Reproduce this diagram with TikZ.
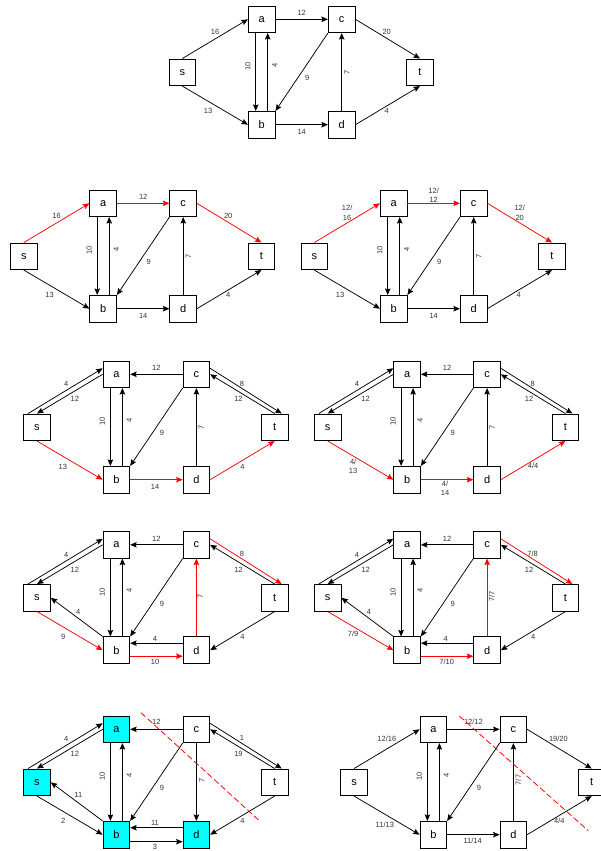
\documentclass[tikz,border=0pt]{standalone}
\usepackage{fontspec}
\setmainfont{Liberation Sans}
\usetikzlibrary{arrows.meta, positioning}

\definecolor{cutside}{RGB}{0,255,255}

\tikzset{
  box/.style={draw, line width=0.8pt, fill=white, minimum size=26.7pt,
    inner sep=0pt, font=\fontsize{11}{13}\selectfont},
  srcside/.style={},
  flow/.style={-{Stealth[length=6.5pt, width=5.5pt, inset=1pt]}, line width=0.75pt},
  aug/.style={flow, draw=red},
  lbl/.style={font=\fontsize{7.5}{9.4}\selectfont, text=black!80,
    inner sep=0pt, align=center},
  cut/.style={draw=red, line width=0.8pt, dash pattern=on 6pt off 3pt}
}

% the six vertices of one network, #1 = panel number
\newcommand{\netnodes}[1]{%
  \node[box, srcside] (s#1) at (182.3,72.3) {s};
  \node[box, srcside] (a#1) at (261.7,19.3) {a};
  \node[box, srcside] (b#1) at (261.7,124.7) {b};
  \node[box] (c#1) at (341.7,19.3) {c};
  \node[box, srcside] (d#1) at (341.7,124.7) {d};
  \node[box] (t#1) at (420,72.3) {t};
}
% edges a-b, b-a and c-b, the same in every panel
\newcommand{\abpair}[1]{%
  \draw[flow] ([xshift=-6pt]a#1.south) -- node[lbl, xshift=-8pt, yshift=5.5pt, rotate=90] {10} ([xshift=-6pt]b#1.north);
  \draw[flow] ([xshift=6pt]b#1.north) -- node[lbl, xshift=7pt, yshift=7pt, rotate=90] {4} ([xshift=6pt]a#1.south);
  \draw[flow] (c#1.south west) -- node[lbl, xshift=5.5pt, yshift=-6.3pt] {9} (b#1.north east);
}

\begin{document}
\begin{tikzpicture}[x=1pt, y=-1pt]
  \useasboundingbox (0,0) rectangle (600,851);

  % Original network
  \netnodes{0}
  \abpair{0}
  \draw[flow] (s0.north) -- node[lbl, yshift=7pt] {16} (a0.west);
  \draw[flow] (s0.south) -- node[lbl, xshift=-7pt, yshift=-6pt] {13} (b0.west);
  \draw[flow] (a0.east) -- node[lbl, yshift=6.3pt] {12} (c0.west);
  \draw[flow] (c0.east) -- node[lbl, xshift=-1pt, yshift=7pt] {20} (t0.north);
  \draw[flow] (d0.north) -- node[lbl, xshift=5pt, rotate=90] {7} (c0.south);
  \draw[flow] (b0.east) -- node[lbl, yshift=-7pt] {14} (d0.west);
  \draw[flow] (d0.east) -- node[lbl, xshift=-1pt, yshift=-6pt] {4} (t0.south);

  % Path s-a-c-t
  \begin{scope}[shift={(-158.5,184)}]
    \netnodes{1}
    \abpair{1}
    \draw[aug] (s1.north) -- node[lbl, yshift=7pt] {16} (a1.west);
    \draw[flow] (s1.south) -- node[lbl, xshift=-7pt, yshift=-6pt] {13} (b1.west);
    \draw[aug] (a1.east) -- node[lbl, yshift=6.3pt] {12} (c1.west);
    \draw[aug] (c1.east) -- node[lbl, xshift=-1pt, yshift=7pt] {20} (t1.north);
    \draw[flow] (d1.north) -- node[lbl, xshift=5pt, rotate=90] {7} (c1.south);
    \draw[flow] (b1.east) -- node[lbl, yshift=-7pt] {14} (d1.west);
    \draw[flow] (d1.east) -- node[lbl, xshift=-1pt, yshift=-6pt] {4} (t1.south);
  \end{scope}

  % Flow 12 on s-a-c-t
  \begin{scope}[shift={(132,184)}]
    \netnodes{2}
    \abpair{2}
    \draw[aug] (s2.north) -- node[lbl, yshift=10.2pt] {12/\\16} (a2.west);
    \draw[flow] (s2.south) -- node[lbl, xshift=-7pt, yshift=-6pt] {13} (b2.west);
    \draw[aug] (a2.east) -- node[lbl, yshift=8.3pt] {12/\\12} (c2.west);
    \draw[aug] (c2.east) -- node[lbl, yshift=10.2pt] {12/\\20} (t2.north);
    \draw[flow] (d2.north) -- node[lbl, xshift=5pt, rotate=90] {7} (c2.south);
    \draw[flow] (b2.east) -- node[lbl, yshift=-7pt] {14} (d2.west);
    \draw[flow] (d2.east) -- node[lbl, xshift=-1pt, yshift=-6pt] {4} (t2.south);
  \end{scope}

  % Residual network, path s-b-d-t
  \begin{scope}[shift={(-145.3,355)}]
    \netnodes{3}
    \abpair{3}
    \draw[flow] ([xshift=-9pt]s3.north) -- node[lbl, xshift=1pt, yshift=7pt] {4} ([yshift=6pt]a3.west);
    \draw[flow] (a3.west) -- node[lbl, xshift=5pt, yshift=-5pt] {12} (s3.north);
    \draw[flow] (c3.west) -- node[lbl, yshift=6pt] {12} (a3.east);
    \draw[flow] ([yshift=6pt]c3.east) -- node[lbl, xshift=-4pt, yshift=7.2pt] {8} ([xshift=7pt]t3.north);
    \draw[flow] (t3.north) -- node[lbl, xshift=-4pt, yshift=-5pt] {12} (c3.east);
    \draw[flow] (d3.north) -- node[lbl, xshift=5pt, rotate=90] {7} (c3.south);
    \draw[aug] (s3.south) -- node[lbl, xshift=-7pt, yshift=-6.5pt] {13} (b3.west);
    \draw[aug] (b3.east) -- node[lbl, xshift=-1.4pt, yshift=-7pt] {14} (d3.west);
    \draw[aug] (d3.east) -- node[lbl, yshift=-6.5pt] {4} (t3.south);
  \end{scope}

  % Flow 4 on s-b-d-t
  \begin{scope}[shift={(145.4,355)}]
    \netnodes{4}
    \abpair{4}
    \draw[flow] ([xshift=-9pt]s4.north) -- node[lbl, xshift=1pt, yshift=7pt] {4} ([yshift=6pt]a4.west);
    \draw[flow] (a4.west) -- node[lbl, xshift=5pt, yshift=-5pt] {12} (s4.north);
    \draw[flow] (c4.west) -- node[lbl, yshift=6pt] {12} (a4.east);
    \draw[flow] ([yshift=6pt]c4.east) -- node[lbl, xshift=-4pt, yshift=7.2pt] {8} ([xshift=7pt]t4.north);
    \draw[flow] (t4.north) -- node[lbl, xshift=-4pt, yshift=-5pt] {12} (c4.east);
    \draw[flow] (d4.north) -- node[lbl, xshift=5pt, rotate=90] {7} (c4.south);
    \draw[aug] (s4.south) -- node[lbl, xshift=-7.4pt, yshift=-5.8pt] {4/\\13} (b4.west);
    \draw[aug] (b4.east) -- node[lbl, xshift=-2pt, yshift=-8.3pt] {4/\\14} (d4.west);
    \draw[aug] (d4.east) -- node[lbl, yshift=-5.5pt] {4/4} (t4.south);
  \end{scope}

  % Residual network, path s-b-d-c-t
  \begin{scope}[shift={(-145.3,525.5)}]
    \netnodes{5}
    \abpair{5}
    \draw[flow] ([xshift=-9pt]s5.north) -- node[lbl, xshift=1pt, yshift=7pt] {4} ([yshift=6pt]a5.west);
    \draw[flow] (a5.west) -- node[lbl, xshift=5pt, yshift=-5pt] {12} (s5.north);
    \draw[flow] (c5.west) -- node[lbl, yshift=6pt] {12} (a5.east);
    \draw[aug] ([yshift=6pt]c5.east) -- node[lbl, xshift=-4pt, yshift=7.2pt] {8} ([xshift=7pt]t5.north);
    \draw[flow] (t5.north) -- node[lbl, xshift=-4pt, yshift=-5pt] {12} (c5.east);
    \draw[aug] (d5.north) -- node[lbl, xshift=4pt, yshift=0.8pt, rotate=90] {7} (c5.south);
    \draw[aug] (s5.south) -- node[lbl, xshift=-6.7pt, yshift=-6pt] {9} (b5.west);
    \draw[flow] (b5.north west) -- node[lbl, xshift=1.6pt, yshift=5.6pt] {4} (s5.east);
    \draw[flow] ([yshift=7pt]d5.west) -- node[lbl, xshift=-1.4pt, yshift=4.5pt] {4} ([yshift=7pt]b5.east);
    \draw[aug] ([yshift=-6pt]b5.east) -- node[lbl, xshift=-1.4pt, yshift=-5.5pt] {10} ([yshift=-6pt]d5.west);
    \draw[flow] (t5.south) -- node[lbl, yshift=-6pt] {4} (d5.east);
  \end{scope}

  % Flow 7 on s-b-d-c-t
  \begin{scope}[shift={(145.4,525.5)}]
    \netnodes{6}
    \abpair{6}
    \draw[flow] ([xshift=-9pt]s6.north) -- node[lbl, xshift=1pt, yshift=7pt] {4} ([yshift=6pt]a6.west);
    \draw[flow] (a6.west) -- node[lbl, xshift=5pt, yshift=-5pt] {12} (s6.north);
    \draw[flow] (c6.west) -- node[lbl, yshift=6pt] {12} (a6.east);
    \draw[aug] ([yshift=6pt]c6.east) -- node[lbl, xshift=-4pt, yshift=7.4pt] {7/8} ([xshift=7pt]t6.north);
    \draw[flow] (t6.north) -- node[lbl, xshift=-4pt, yshift=-5pt] {12} (c6.east);
    \draw[aug] (d6.north) -- node[lbl, xshift=4.6pt, yshift=0.8pt, rotate=90] {7/7} (c6.south);
    \draw[aug] (s6.south) -- node[lbl, xshift=-7.4pt, yshift=-2.6pt] {7/9} (b6.west);
    \draw[flow] (b6.north west) -- node[lbl, xshift=1.6pt, yshift=5.6pt] {4} (s6.east);
    \draw[flow] ([yshift=7pt]d6.west) -- node[lbl, xshift=-1.4pt, yshift=4.5pt] {4} ([yshift=7pt]b6.east);
    \draw[aug] ([yshift=-6pt]b6.east) -- node[lbl, xshift=-0.4pt, yshift=-5.5pt] {7/10} ([yshift=-6pt]d6.west);
    \draw[flow] (t6.south) -- node[lbl, yshift=-6pt] {4} (d6.east);
  \end{scope}

  % Final residual network and the minimum cut
  \begin{scope}[shift={(-145.3,710)}, srcside/.style={fill=cutside}]
    \netnodes{7}
    \abpair{7}
    \draw[flow] ([xshift=-9pt]s7.north) -- node[lbl, xshift=1pt, yshift=7pt] {4} ([yshift=6pt]a7.west);
    \draw[flow] (a7.west) -- node[lbl, xshift=5pt, yshift=-5pt] {12} (s7.north);
    \draw[flow] (c7.west) -- node[lbl, yshift=7pt] {12} (a7.east);
    \draw[flow] ([yshift=6pt]c7.east) -- node[lbl, xshift=-4pt, yshift=7.9pt] {1} ([xshift=7pt]t7.north);
    \draw[flow] (t7.north) -- node[lbl, xshift=-4pt, yshift=-5pt] {19} (c7.east);
    \draw[flow] (c7.south) -- node[lbl, xshift=5.3pt, yshift=2pt, rotate=90] {7} (d7.north);
    \draw[flow] (s7.south) -- node[lbl, xshift=-6.7pt, yshift=-5.8pt] {2} (b7.west);
    \draw[flow] (b7.north west) -- node[lbl, xshift=1.6pt, yshift=6.8pt] {11} (s7.east);
    \draw[flow] ([yshift=7pt]d7.west) -- node[lbl, xshift=-1.4pt, yshift=4.5pt] {11} ([yshift=7pt]b7.east);
    \draw[flow] ([yshift=-7pt]b7.east) -- node[lbl, xshift=-1.4pt, yshift=-5.5pt] {3} ([yshift=-7pt]d7.west);
    \draw[flow] (t7.south) -- node[lbl, yshift=-6pt] {4} (d7.east);
    \coordinate (cut7a) at (286.3,2.7);
    \coordinate (cut7b) at (404.6,110.7);
    \draw[cut] (cut7a) -- (cut7b);
  \end{scope}

  % Maximum flow
  \begin{scope}[shift={(171.7,710)}]
    \netnodes{8}
    \abpair{8}
    \draw[flow] (s8.north) -- node[lbl, yshift=10pt] {12/16} (a8.west);
    \draw[flow] (s8.south) -- node[lbl, xshift=-2pt, yshift=-9pt] {11/13} (b8.west);
    \draw[flow] (a8.east) -- node[lbl, yshift=7pt] {12/12} (c8.west);
    \draw[flow] (c8.east) -- node[lbl, xshift=-1pt, yshift=10pt] {19/20} (t8.north);
    \draw[flow] (d8.north) -- node[lbl, xshift=4.9pt, yshift=2pt, rotate=90] {7/7} (c8.south);
    \draw[flow] (b8.east) -- node[lbl, xshift=-0.7pt, yshift=-6.3pt] {11/14} (d8.west);
    \draw[flow] (d8.east) -- node[lbl, yshift=-5.8pt] {4/4} (t8.south);
    \coordinate (cut8a) at (287.6,6);
    \coordinate (cut8b) at (416.6,120.7);
    \draw[cut] (cut8a) -- (cut8b);
  \end{scope}
\end{tikzpicture}
\end{document}
